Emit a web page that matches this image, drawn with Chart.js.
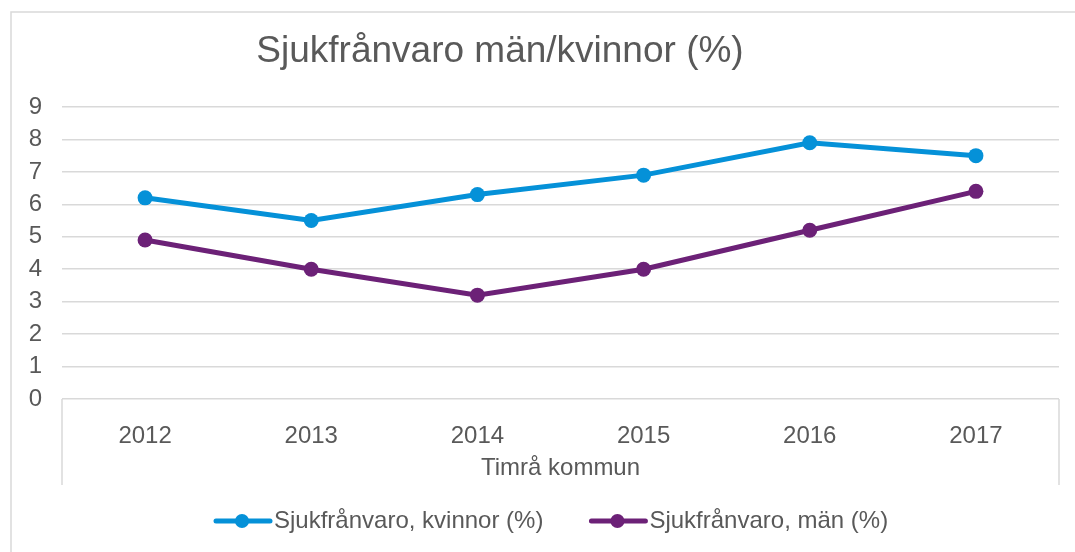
<!DOCTYPE html>
<html>
<head>
<meta charset="utf-8">
<script src="https://cdn.jsdelivr.net/npm/chart.js@4.4.0/dist/chart.umd.min.js"></script>
<style>
  html, body { margin: 0; padding: 0; background: #fff; }
  #wrap { width: 1075px; height: 552px; position: relative; }
</style>
</head>
<body>
<div id="wrap"><canvas id="chart" width="1075" height="552"></canvas></div>
<script>
const years = ['2012', '2013', '2014', '2015', '2016', '2017'];
const kvinnor = [6.2, 5.5, 6.3, 6.9, 7.9, 7.5];
const man = [4.9, 4.0, 3.2, 4.0, 5.2, 6.4];
const yTicks = [0, 1, 2, 3, 4, 5, 6, 7, 8, 9];
const titleText = 'Sjukfrånvaro män/kvinnor (%)';
const groupLabel = 'Timrå kommun';

const FONT = '"Liberation Sans", Arial, sans-serif';
const TEXT = '#595959';
const GRID = '#d9d9d9';

// frame, title, category group box and legend drawn like the Excel original
const excelDecor = {
  id: 'excelDecor',
  beforeDraw(chart) {
    const ctx = chart.ctx;
    ctx.save();
    ctx.strokeStyle = GRID;
    ctx.lineWidth = 1.5;
    ctx.beginPath();
    ctx.moveTo(11, 552);
    ctx.lineTo(11, 12);
    ctx.lineTo(1075, 12);
    ctx.stroke();
    ctx.restore();
  },
  afterDraw(chart) {
    const ctx = chart.ctx;
    const area = chart.chartArea;
    ctx.save();
    // group box
    ctx.strokeStyle = GRID;
    ctx.lineWidth = 1.5;
    ctx.beginPath();
    ctx.moveTo(area.left, area.bottom);
    ctx.lineTo(area.left, 485);
    ctx.moveTo(area.right, area.bottom);
    ctx.lineTo(area.right, 485);
    ctx.stroke();

    ctx.fillStyle = TEXT;
    ctx.textAlign = 'center';
    ctx.textBaseline = 'middle';
    ctx.font = '24px ' + FONT;
    ctx.fillText(groupLabel, (area.left + area.right) / 2, 468);

    // title
    ctx.font = '37px ' + FONT;
    ctx.fillText(titleText, 500, 52);

    // legend
    ctx.font = '24px ' + FONT;
    ctx.textAlign = 'left';
    let x = 216;
    chart.data.datasets.forEach(ds => {
      const y = 521;
      ctx.strokeStyle = ds.borderColor;
      ctx.lineWidth = 5;
      ctx.lineCap = 'round';
      ctx.beginPath();
      ctx.moveTo(x, y);
      ctx.lineTo(x + 54, y);
      ctx.stroke();
      ctx.fillStyle = ds.borderColor;
      ctx.beginPath();
      ctx.arc(x + 26, y, 7, 0, Math.PI * 2);
      ctx.fill();
      ctx.fillStyle = TEXT;
      ctx.fillText(ds.label, x + 58, y);
      x += 58 + ctx.measureText(ds.label).width + 48;
    });
    ctx.restore();
  }
};

new Chart(document.getElementById('chart').getContext('2d'), {
  type: 'line',
  data: {
    labels: years,
    datasets: [
      {
        label: 'Sjukfrånvaro, kvinnor (%)',
        data: kvinnor,
        borderColor: '#0591d8',
        backgroundColor: '#0591d8',
        borderWidth: 5,
        pointRadius: 7.5,
        pointHoverRadius: 7.5,
        pointBorderWidth: 0,
        tension: 0
      },
      {
        label: 'Sjukfrånvaro, män (%)',
        data: man,
        borderColor: '#6c2177',
        backgroundColor: '#6c2177',
        borderWidth: 5,
        pointRadius: 7.5,
        pointHoverRadius: 7.5,
        pointBorderWidth: 0,
        tension: 0
      }
    ]
  },
  options: {
    responsive: false,
    animation: false,
    layout: { padding: { top: 107, right: 16, bottom: 53, left: 0 } },
    plugins: {
      legend: { display: false },
      title: { display: false },
      tooltip: { enabled: false }
    },
    scales: {
      x: {
        offset: true,
        grid: { display: false },
        border: { display: false },
        ticks: { color: TEXT, font: { family: FONT, size: 24 }, padding: 15, maxRotation: 0 },
        afterFit(scale) { scale.height = 100; }
      },
      y: {
        min: 0,
        max: 9,
        afterBuildTicks(scale) { scale.ticks = yTicks.map(v => ({ value: v })); },
        grid: { color: GRID, lineWidth: 1.5, drawTicks: false },
        border: { display: false },
        ticks: { color: TEXT, font: { family: FONT, size: 24 }, padding: 20 },
        afterFit(scale) { scale.width = 62; }
      }
    }
  },
  plugins: [excelDecor]
});
</script>
</body>
</html>
